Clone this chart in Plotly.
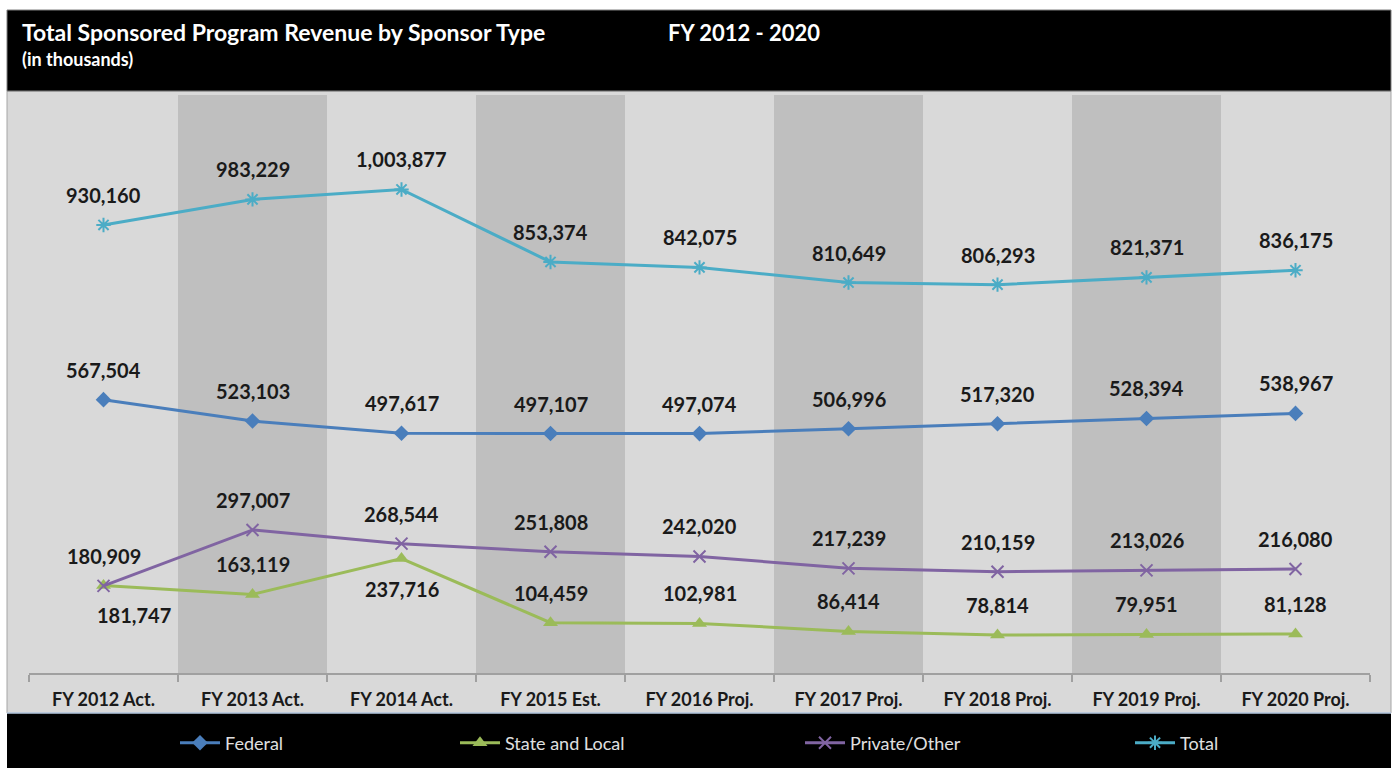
import plotly.graph_objects as go

categories = ["FY 2012 Act.", "FY 2013 Act.", "FY 2014 Act.", "FY 2015 Est.", "FY 2016 Proj.",
              "FY 2017 Proj.", "FY 2018 Proj.", "FY 2019 Proj.", "FY 2020 Proj."]
federal = [567504, 523103, 497617, 497107, 497074, 506996, 517320, 528394, 538967]
state_local = [181747, 163119, 237716, 104459, 102981, 86414, 78814, 79951, 81128]
private_other = [180909, 297007, 268544, 251808, 242020, 217239, 210159, 213026, 216080]
total = [930160, 983229, 1003877, 853374, 842075, 810649, 806293, 821371, 836175]

W, H = 1399, 768
L, R, T, B = 29, 29, 95, 95
PW, PH = W - L - R, H - T - B

def pxx(px):
    return (px - L) / PW

def pxy(py):
    return (H - B - py) / PH

FONT = "Lato"
series = [
    ("Federal", federal, "#4a7ebb", dict(symbol="diamond", size=12)),
    ("State and Local", state_local, "#9bbb59", dict(symbol="triangle-up", size=13)),
    ("Private/Other", private_other, "#8064a2", dict(symbol="x-thin-open", size=12, line=dict(width=2))),
    ("Total", total, "#4bacc6", dict(symbol="asterisk-open", size=12, line=dict(width=2))),
]
# label placement (style): +1 above, -1 below
placement = {
    "Federal": [1] * 9,
    "State and Local": [-1, 1, -1, 1, 1, 1, 1, 1, 1],
    "Private/Other": [1] * 9,
    "Total": [1] * 9,
}
xshifts = {"State and Local": [30, 0, 0, 0, 0, 0, 0, 0, 0]}
legend_px = [175, 455, 800, 1130]

fig = go.Figure()
annotations = []
legends = {}
for k, (name, vals, color, mk) in enumerate(series):
    m = dict(color=color, **mk)
    lid = "legend" if k == 0 else f"legend{k + 1}"
    fig.add_trace(go.Scatter(
        x=categories, y=vals, name=name, mode="lines+markers", legend=lid,
        line=dict(color=color, width=3), marker=m, hoverinfo="skip"))
    legends[lid] = dict(x=pxx(legend_px[k]), y=pxy(743), xanchor="left", yanchor="middle",
                        orientation="h", bgcolor="rgba(0,0,0,0)", itemwidth=40,
                        font=dict(family=FONT, size=18, color="#e0e0e0"))
    for i, (c, v) in enumerate(zip(categories, vals)):
        annotations.append(dict(
            x=c, y=v, xref="x", yref="y", text=f"<b>{v:,}</b>", showarrow=False,
            yshift=30 * placement[name][i], xshift=xshifts.get(name, [0] * 9)[i],
            font=dict(family=FONT, size=20, color="#1a1a1a")))

# titles
annotations += [
    dict(x=pxx(20), y=pxy(32), xref="paper", yref="paper", xanchor="left", yanchor="middle",
         text="<b>Total Sponsored Program Revenue by Sponsor Type</b>", showarrow=False,
         font=dict(family=FONT, size=23, color="#ffffff")),
    dict(x=pxx(20), y=pxy(59), xref="paper", yref="paper", xanchor="left", yanchor="middle",
         text="<b>(in thousands)</b>", showarrow=False,
         font=dict(family=FONT, size=18, color="#ffffff")),
    dict(x=pxx(666), y=pxy(32), xref="paper", yref="paper", xanchor="left", yanchor="middle",
         text="<b>FY 2012 - 2020</b>", showarrow=False,
         font=dict(family=FONT, size=22, color="#ffffff")),
]

shapes = [
    # grey chart area
    dict(type="rect", xref="paper", yref="paper", x0=pxx(7), x1=pxx(1391), y0=pxy(713), y1=pxy(91),
         fillcolor="#d9d9d9", line=dict(color="#a6a6a6", width=1), layer="below"),
    # header
    dict(type="rect", xref="paper", yref="paper", x0=pxx(7), x1=pxx(1391), y0=pxy(91), y1=pxy(10),
         fillcolor="#000000", line=dict(color="#7f7f7f", width=1), layer="below"),
    # legend band
    dict(type="rect", xref="paper", yref="paper", x0=pxx(7), x1=pxx(1391), y0=pxy(800), y1=pxy(713),
         fillcolor="#000000", line=dict(width=0), layer="below"),
    dict(type="line", xref="paper", yref="paper", x0=pxx(7), x1=pxx(1391), y0=pxy(713), y1=pxy(713),
         line=dict(color="#b8cce4", width=1.5), layer="below"),
]
for i in range(1, len(categories), 2):
    shapes.append(dict(type="rect", xref="x", yref="paper", x0=i - 0.5, x1=i + 0.5, y0=0, y1=1,
                       fillcolor="#bfbfbf", line=dict(width=0), layer="below"))

fig.update_layout(
    width=W, height=H,
    margin=dict(l=L, r=R, t=T, b=B, autoexpand=False),
    paper_bgcolor="#ffffff", plot_bgcolor="rgba(0,0,0,0)",
    shapes=shapes, annotations=annotations,
    showlegend=True,
    xaxis=dict(type="category", range=[-0.5, 8.5], showgrid=False, showline=True,
               linecolor="#a0a0a0", linewidth=1.5, ticks="outside", tickson="boundaries",
               ticklen=7, tickcolor="#a0a0a0", tickwidth=1.5, zeroline=False,
               ticklabelstandoff=10, automargin=False,
               tickfont=dict(family=FONT, size=18, color="#1a1a1a"),
               tickvals=categories, ticktext=[f"<b>{c}</b>" for c in categories]),
    yaxis=dict(range=[0, 1200000], visible=False, showgrid=False, zeroline=False, automargin=False),
    **legends,
)

fig.write_html("out.html", config={"displayModeBar": False, "staticPlot": True},
               post_script="document.body.style.margin='0';document.documentElement.style.overflow='hidden';")
